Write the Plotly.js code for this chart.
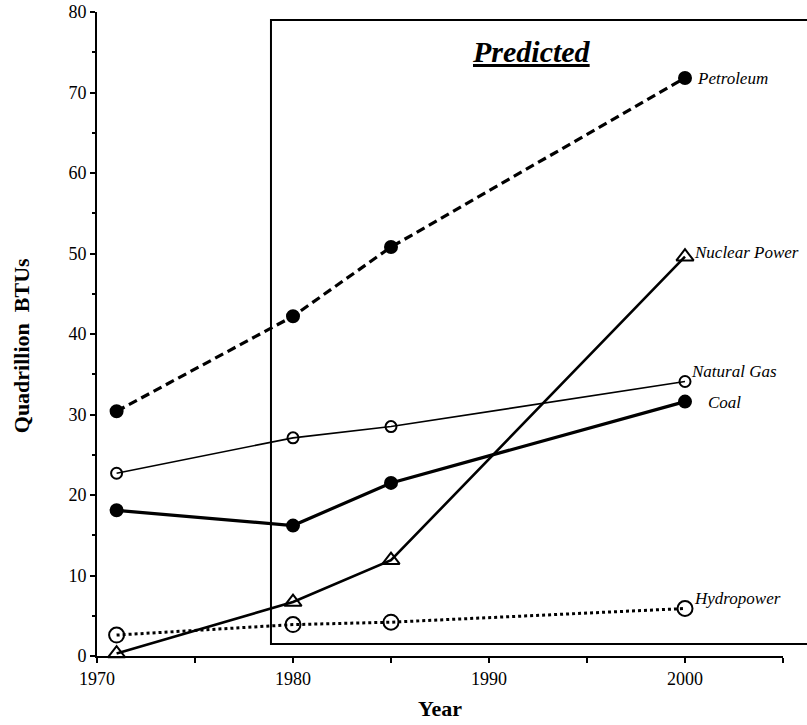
<!DOCTYPE html>
<html>
<head>
<meta charset="utf-8">
<script src="https://cdn.plot.ly/plotly-3.0.1.min.js"></script>
<style>html,body{margin:0;padding:0;background:#fff;}</style>
</head>
<body>
<div id="chart" style="width:807px;height:725px;"></div>
<script>
var years = [1971, 1980, 1985, 2000];
var petroleum = [30.4, 42.2, 50.8, 71.8];
var naturalGas = [22.7, 27.1, 28.5, 34.1];
var coal = [18.1, 16.2, 21.5, 31.6];
var nuclear = [0.3, 6.7, 11.9, 49.6];
var hydro = [2.6, 3.9, 4.2, 5.9];
var seriesNames = ["Petroleum", "Nuclear Power", "Natural Gas", "Coal", "Hydropower"];
var yTicks = [0, 10, 20, 30, 40, 50, 60, 70, 80];
var xTicks = [1970, 1980, 1990, 2000];

var serif = "Liberation Serif, Times New Roman, serif";

function tr(y, name, dash, width, sym, size) {
  return {
    x: years, y: y, name: name, type: "scatter", mode: "lines+markers",
    line: {color: "#000", width: width, dash: dash},
    marker: {symbol: sym, size: size, color: "#000", line: {color: "#000", width: 2}},
    cliponaxis: false, showlegend: false
  };
}

var data = [
  tr(petroleum, seriesNames[0], "9px,5px", 3.2, "circle", 12),
  tr(naturalGas, seriesNames[2], "solid", 1.6, "circle-open", 11),
  tr(coal, seriesNames[3], "solid", 3.2, "circle", 12),
  tr(nuclear, seriesNames[1], "solid", 2.6, "triangle-up-open", 15),
  tr(hydro, seriesNames[4], "3px,3px", 3, "circle-open", 15)
];

var lastIdx = years.length - 1;
function lab(text, y, dx, dy) {
  return {x: years[lastIdx], y: y, xref: "x", yref: "y", text: "<i>" + text + "</i>",
    showarrow: false, xanchor: "left", yanchor: "middle", xshift: dx, yshift: dy,
    font: {family: serif, size: 17, color: "#000"}};
}

var layout = {
  width: 807, height: 725,
  margin: {l: 97, r: 24, t: 12, b: 69},
  paper_bgcolor: "#fff", plot_bgcolor: "#fff",
  font: {family: serif, color: "#000"},
  xaxis: {
    range: [1970, 2005], tickvals: xTicks, ticktext: xTicks.map(String),
    showgrid: false, zeroline: false, showline: true, linecolor: "#000", linewidth: 2,
    ticks: "outside", ticklen: 5, tickwidth: 2, tickcolor: "#000",
    minor: {dtick: 5, tick0: 1970, ticks: "outside", ticklen: 5, tickwidth: 2, tickcolor: "#000", showgrid: false},
    tickfont: {family: serif, size: 18, color: "#000"},
    title: {text: "<b>Year</b>", font: {family: serif, size: 22, color: "#000"}, standoff: 13}
  },
  yaxis: {
    range: [0, 80], tickvals: yTicks, ticktext: yTicks.map(String),
    showgrid: false, zeroline: false, showline: true, linecolor: "#000", linewidth: 2,
    ticks: "outside", ticklen: 5, tickwidth: 2, tickcolor: "#000",
    minor: {dtick: 5, tick0: 0, ticks: "outside", ticklen: 3, tickwidth: 2, tickcolor: "#000", showgrid: false},
    tickfont: {family: serif, size: 18, color: "#000"}
  },
  shapes: [{
    type: "rect", xref: "paper", yref: "paper",
    x0: 0.2536, x1: 1.1, y0: 1.5 / 80, y1: 79 / 80,
    line: {color: "#000", width: 2}, fillcolor: "rgba(0,0,0,0)", layer: "below"
  }],
  annotations: [
    {x: 0, y: 0.481, xref: "paper", yref: "paper", xshift: -76, textangle: -90,
     text: "<b>Quadrillion&nbsp; BTUs</b>", showarrow: false, xanchor: "center", yanchor: "middle",
     font: {family: serif, size: 22, color: "#000"}},
    {x: 0.634, y: 0.938, xref: "paper", yref: "paper", text: "<b><i>Predicted</i></b>",
     showarrow: false, xanchor: "center", yanchor: "middle",
     font: {family: serif, size: 30, color: "#000", lineposition: "under"}},
    lab(seriesNames[0], petroleum[lastIdx], 10, 0),
    lab(seriesNames[1], nuclear[lastIdx], 7, 4),
    lab(seriesNames[2], naturalGas[lastIdx], 4, 10),
    lab(seriesNames[3], coal[lastIdx], 21, -1),
    lab(seriesNames[4], hydro[lastIdx], 7, 10)
  ]
};

Plotly.newPlot("chart", data, layout, {displayModeBar: false, staticPlot: true});
</script>
</body>
</html>
